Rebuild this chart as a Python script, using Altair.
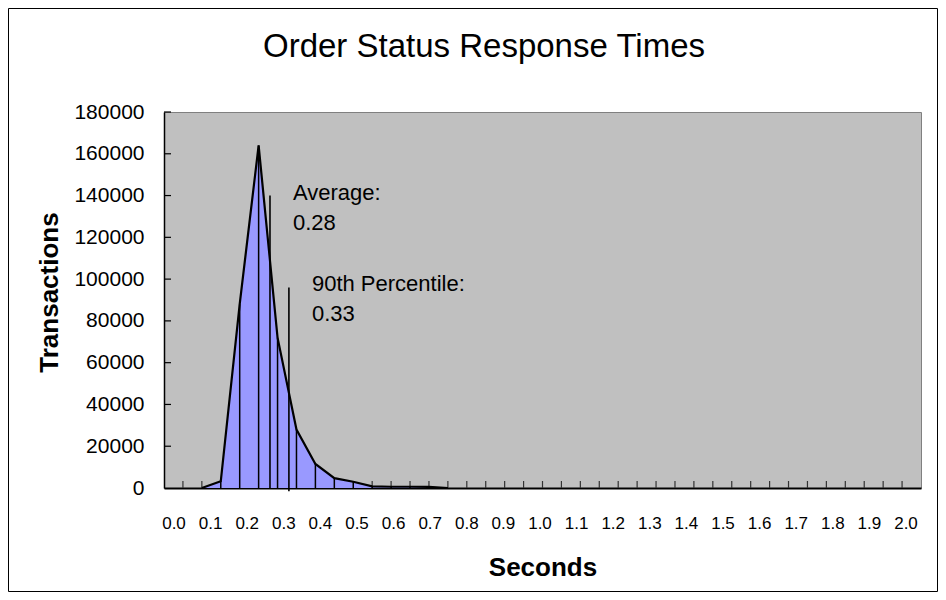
import altair as alt
import pandas as pd
import numpy as np

# ---- data ----
seconds = [0.10, 0.15, 0.20, 0.25, 0.30, 0.35, 0.40, 0.45, 0.50, 0.55, 0.60, 0.65, 0.70, 0.75]
transactions = [0, 3200, 88000, 164000, 72000, 28000, 11500, 4700, 3000, 800, 600, 600, 500, 0]

stat_values = [0.28, 0.33]
stat_line_tops = [140000, 96000]
stat_line_bottoms = [0, -1500]
stat_texts = [["Average:", "0.28"], ["90th Percentile:", "0.33"]]

chart_title = "Order Status Response Times"
x_label_values = [round(v, 1) for v in np.arange(0, 2.01, 0.1)]
x_label_texts = [f"{v:.1f}" for v in x_label_values]
x_tick_values = [round(v, 2) for v in np.arange(0.05, 1.96, 0.05)]
y_tick_values = list(range(20000, 180001, 20000))

W, H = 757, 376
FONT = "Liberation Sans"

df = pd.DataFrame({"Seconds": seconds, "Transactions": transactions})
stats = pd.DataFrame({"x": stat_values, "top": stat_line_tops, "bottom": stat_line_bottoms,
                      "label": stat_texts})
xlab = pd.DataFrame({"v": x_label_values, "t": x_label_texts})
xt = pd.DataFrame({"v": x_tick_values})
yt = pd.DataFrame({"v": y_tick_values})

xs = alt.Scale(domain=[0, 2], nice=False, zero=False)
ys = alt.Scale(domain=[0, 180000], nice=False)

x_axis = alt.Axis(title="Seconds", labels=False, ticks=False, grid=False,
                  domainColor="black", domainWidth=2,
                  titleFont=FONT, titleFontSize=26, titleFontWeight="bold", titleColor="black",
                  titleBaseline="alphabetic", titleY=87)
y_axis = alt.Axis(title="Transactions", ticks=False, grid=False, values=list(range(0, 180001, 20000)),
                  format="d", domainColor="black", domainWidth=1.5, labelPadding=20,
                  labelFont=FONT, labelFontSize=21, labelColor="black",
                  titleFont=FONT, titleFontSize=26, titleFontWeight="bold", titleColor="black",
                  titleAngle=-90, titleBaseline="alphabetic", titleX=-107, titleY=180, titleAlign="center")

area = alt.Chart(df).mark_area(color="#9999FF", opacity=1).encode(
    x=alt.X("Seconds:Q", scale=xs, axis=x_axis),
    y=alt.Y("Transactions:Q", scale=ys, axis=y_axis),
)
xticks = alt.Chart(xt).mark_rule(color="#333333", strokeWidth=1.2).encode(
    x=alt.X("v:Q", scale=xs), y=alt.value(H - 7), y2=alt.value(H)
)
yticks = alt.Chart(yt).mark_rule(color="black", strokeWidth=1.2).encode(
    y=alt.Y("v:Q", scale=ys), x=alt.value(0), x2=alt.value(7)
)
drops = alt.Chart(df).mark_rule(color="black", strokeWidth=1.5).encode(
    x="Seconds:Q", y=alt.Y("Transactions:Q"), y2=alt.datum(0)
)
outline = alt.Chart(df).mark_line(color="black", strokeWidth=2.2).encode(
    x="Seconds:Q", y="Transactions:Q"
)
stat_rules = alt.Chart(stats).mark_rule(color="black", strokeWidth=1.6).encode(
    x="x:Q", y="top:Q", y2="bottom:Q"
)
stat_text = alt.Chart(stats).mark_text(
    align="left", baseline="alphabetic", dx=23, dy=4, font=FONT, fontSize=22,
    lineHeight=30, color="black"
).encode(x="x:Q", y="top:Q", text="label")
frame = alt.Chart(pd.DataFrame({"a": [0]})).mark_rect(
    fill=None, filled=False, stroke="black", strokeWidth=1
).encode(x=alt.value(-155.5), x2=alt.value(773.5), y=alt.value(-103.5), y2=alt.value(479.5))
title_mark = alt.Chart(pd.DataFrame({"t": [chart_title]})).mark_text(
    align="center", baseline="alphabetic", font=FONT, fontSize=33, color="black"
).encode(x=alt.value(320), y=alt.value(-55), text="t:N")

inner = alt.layer(xticks, area, drops, outline, yticks, stat_rules, stat_text, frame, title_mark)

labels = alt.Chart(xlab).mark_text(
    baseline="alphabetic", align="center", font=FONT, fontSize=17, color="black"
).encode(
    x=alt.X("v:Q", scale=alt.Scale(domain=[-0.0273, 2.041], nice=False, zero=False), axis=None),
    y=alt.value(417), text="t:N"
)

chart = alt.layer(inner, labels).resolve_scale(x="independent").properties(
    width=W, height=H,
    padding={"left": 156, "top": 104, "right": 17, "bottom": 104},
    autosize=alt.AutoSizeParams(type="none"),
).configure(background="white").configure_view(fill="#C0C0C0", stroke="#808080", strokeWidth=1)

chart.save("out.html", embed_options={"renderer": "svg", "actions": False})
